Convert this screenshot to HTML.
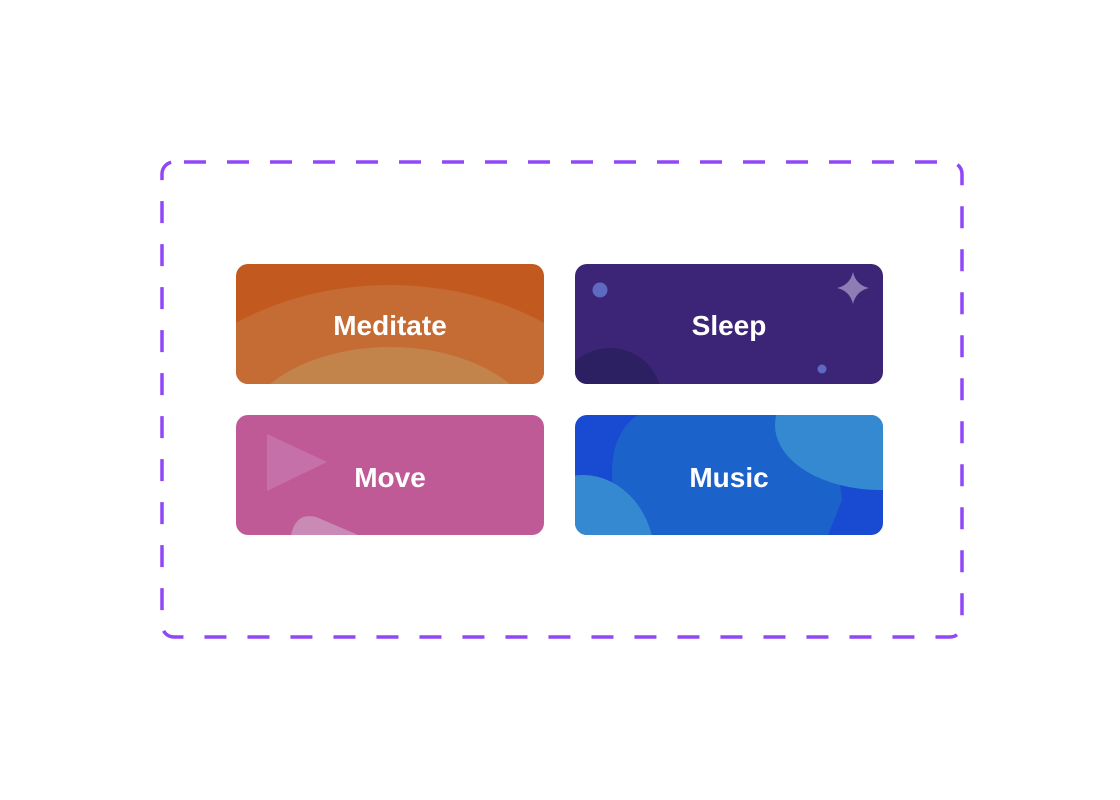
<!DOCTYPE html>
<html><head><style>html,body{margin:0;padding:0;background:#fff;}svg{display:block}</style></head>
<body>
<svg width="1120" height="800" viewBox="0 0 1120 800" xmlns="http://www.w3.org/2000/svg">
<defs>
<clipPath id="c1"><rect x="236" y="264" width="308" height="120" rx="12"/></clipPath>
<clipPath id="c2"><rect x="575" y="264" width="308" height="120" rx="12"/></clipPath>
<clipPath id="c3"><rect x="236" y="415" width="308" height="120" rx="12"/></clipPath>
<clipPath id="c4"><rect x="575" y="415" width="308" height="120" rx="12"/></clipPath>
</defs>
<rect x="162" y="162" width="800" height="475" rx="12" fill="none" stroke="#9147f5" stroke-width="3.5" stroke-dasharray="22 21" stroke-dashoffset="-10"/>

<g clip-path="url(#c1)">
<rect x="236" y="264" width="308" height="120" fill="#c25a1f"/>
<ellipse cx="390" cy="480" rx="260" ry="195" fill="#c56b34"/>
<ellipse cx="390" cy="440" rx="150" ry="93" fill="#c3844c"/>
</g>
<g clip-path="url(#c2)">
<rect x="575" y="264" width="308" height="120" fill="#3c2476"/>
<circle cx="610" cy="400" r="52" fill="#2d2062"/>
<circle cx="600" cy="290" r="7.5" fill="#5e6ac0"/>
<circle cx="822" cy="369" r="4.5" fill="#5e6ac0"/>
<path d="M853 272 Q856 285 869 288 Q856 291 853 304 Q850 291 837 288 Q850 285 853 272Z" fill="#8e7db5"/>
</g>
<g clip-path="url(#c3)">
<rect x="236" y="415" width="308" height="120" fill="#c05a97"/>
<path d="M267 434 L327 462 L267 491 Z" fill="#c670aa"/>
<path d="M291 535 Q296 512 316 517 L370 540 L291 540 Z" fill="#c98bb6"/>
</g>
<g clip-path="url(#c4)">
<rect x="575" y="415" width="308" height="120" fill="#194bd2"/>
<path d="M613 490 Q605 420 660 405 L830 405 L842 500 L826 540 L640 540 Z" fill="#1b62cb"/>
<ellipse cx="880" cy="425" rx="105" ry="65" fill="#3589d0"/>
<ellipse cx="583" cy="560" rx="72" ry="85" fill="#3589d0"/>
</g>

<g font-family="Liberation Sans, sans-serif" font-weight="bold" font-size="28" fill="#fff" text-anchor="middle">
<text x="390" y="335">Meditate</text>
<text x="729" y="335">Sleep</text>
<text x="390" y="487">Move</text>
<text x="729" y="487">Music</text>
</g>
</svg>
</body></html>
